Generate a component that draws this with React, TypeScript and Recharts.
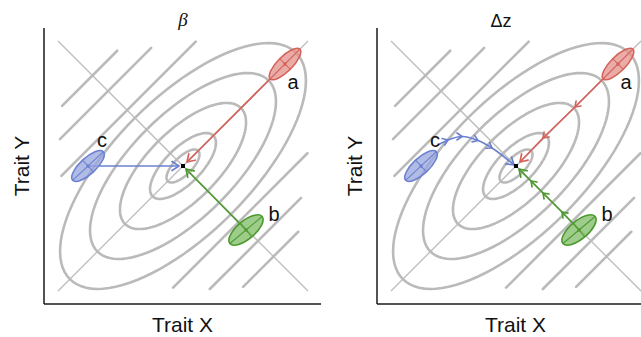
import React from 'react';
import { ComposedChart, Line, Scatter, XAxis, YAxis } from 'recharts';

// all positions in px relative to the optimum, y pointing up

// closed fitness contours (semi-axes along / across the main diagonal)
const contourMajor = [21.5, 43, 82, 121, 160];
const contourMinor = [9, 18, 35, 51.5, 68];
// outer contours: straight ridges parallel to the main diagonal, in both corners
const ridgeOffset = [79, 106, 128];
const ridgeFrom = [-93, -68, -43];
const ridgeTo = [97, 61, 35];

const popNames = ['a', 'b', 'c'];
const popX = [102, 63, -95];
const popY = [102, -64, 0];
const labelX = [110, 91, -81];
const labelY = [84, -48, 26];

// beta panel: straight gradient arrows
const betaRedX = [87, 4];
const betaRedY = [87, 4];
const betaGreenX = [63, 3];
const betaGreenY = [-64, -3];
const betaBlueX = [-95, -4];
const betaBlueY = [0, 0];

// delta z panel: response paths
const dzRedX = [87, 59, 27, 4];
const dzRedY = [87, 59, 28, 4];
const dzGreenX = [62, 46, 27, 15, 3];
const dzGreenY = [-63, -46, -27, -15, -3];
const dzBlueX = [-78, -68, -54, -38, -24, -2];
const dzBlueY = [21, 26, 29.5, 25.5, 18, 1];

const font = '"Liberation Sans", Arial, sans-serif';
const RED = '#d5625a';
const GREEN = '#4c9a2d';
const BLUE = '#6b80d0';

const popStyle: Record<string, any> = {
  a: { stroke: RED, fill: '#e49089', rx: 21, ry: 7.5, angle: 45 },
  b: { stroke: GREEN, fill: '#7dbb64', rx: 21, ry: 9, angle: 40 },
  c: { stroke: BLUE, fill: '#95a4de', rx: 21, ry: 8, angle: 43 },
};

const S = Math.SQRT1_2;
const rot = (u: number, v: number) => ({ x: (u - v) * S, y: (u + v) * S });

function closedContour(a: number, b: number) {
  const pts = [];
  for (let i = 0; i <= 96; i++) {
    const t = (i / 96) * Math.PI * 2;
    pts.push(rot(a * Math.cos(t), b * Math.sin(t)));
  }
  return pts;
}

const zip = (xs: number[], ys: number[]) => xs.map((x, i) => ({ x, y: ys[i] }));

const contours = [
  ...contourMajor.map((a, i) => closedContour(a, contourMinor[i])),
  ...ridgeOffset.flatMap((v, i) => [
    [rot(ridgeFrom[i], v), rot(ridgeTo[i], v)],
    [rot(ridgeFrom[i], -v), rot(ridgeTo[i], -v)],
  ]),
];

const diagonals = [
  [{ x: -125, y: -125 }, { x: 125, y: 125 }],
  [{ x: -125, y: 125 }, { x: 125, y: -125 }],
];

const pops = popNames.map((name, i) => ({ name, x: popX[i], y: popY[i] }));
const labels = popNames.map((name, i) => ({ name, x: labelX[i], y: labelY[i] }));

const betaArrows = [
  { id: 'red', color: RED, pts: zip(betaRedX, betaRedY) },
  { id: 'green', color: GREEN, pts: zip(betaGreenX, betaGreenY) },
  { id: 'blue', color: BLUE, pts: zip(betaBlueX, betaBlueY) },
];
const dzArrows = [
  { id: 'red', color: RED, pts: zip(dzRedX, dzRedY) },
  { id: 'green', color: GREEN, pts: zip(dzGreenX, dzGreenY) },
  { id: 'blue', color: BLUE, pts: zip(dzBlueX, dzBlueY), curved: true },
];

const renderPop = (props: any) => {
  const { cx, cy, payload } = props;
  const s = popStyle[payload.name];
  return (
    <g transform={`translate(${cx},${cy}) rotate(${-s.angle})`}>
      <ellipse rx={s.rx} ry={s.ry} fill={s.fill} fillOpacity={0.75} stroke={s.stroke} strokeWidth={1.6} />
      <line x1={-s.rx} x2={s.rx} y1={0} y2={0} stroke={s.stroke} strokeWidth={1} />
      <line x1={0} x2={0} y1={-s.ry} y2={s.ry} stroke={s.stroke} strokeWidth={1} />
      <circle r={1.6} fill={s.stroke} />
    </g>
  );
};

const renderLabel = (props: any) => (
  <text x={props.cx} y={props.cy} textAnchor="middle" dominantBaseline="central" fontSize={20} fontFamily={font} fill="#111">
    {props.payload.name}
  </text>
);

const renderOptimum = (props: any) => <rect x={props.cx - 2} y={props.cy - 2} width={4} height={4} fill="#000" />;

function Panel({ arrows, chevrons }: { arrows: any[]; chevrons: boolean }) {
  return (
    <ComposedChart width={321} height={337} margin={{ top: 28, right: 0, bottom: 0, left: 0 }}>
      <XAxis
        type="number"
        dataKey="x"
        domain={[-139, 138]}
        allowDataOverflow
        tick={false}
        tickLine={false}
        axisLine={{ stroke: '#1a1a1a', strokeWidth: 1.5 }}
        height={33}
        label={{ value: 'Trait X', position: 'insideBottom', offset: 5, fill: '#111', fontSize: 21, fontFamily: font }}
      />
      <YAxis
        type="number"
        dataKey="y"
        domain={[-138, 138]}
        allowDataOverflow
        tick={false}
        tickLine={false}
        axisLine={{ stroke: '#1a1a1a', strokeWidth: 1.5 }}
        width={44}
        label={{ value: 'Trait Y', angle: -90, position: 'center', fill: '#111', fontSize: 21, fontFamily: font }}
      />
      {diagonals.map((d, i) => (
        <Line key={`d${i}`} data={d} dataKey="y" stroke="#bcbcbc" strokeWidth={1.3} dot={false} activeDot={false} isAnimationActive={false} />
      ))}
      {contours.map((c, i) => (
        <Line key={`c${i}`} data={c} dataKey="y" stroke="#bababa" strokeWidth={2.6} strokeLinecap="round" dot={false} activeDot={false} isAnimationActive={false} />
      ))}
      {arrows.map((a) => (
        <Line
          key={a.id}
          data={a.pts}
          dataKey="y"
          type={a.curved ? 'monotone' : 'linear'}
          stroke={a.color}
          strokeWidth={1.7}
          dot={false}
          activeDot={false}
          isAnimationActive={false}
          markerEnd={`url(#head-${a.id})`}
          markerMid={chevrons ? `url(#chev-${a.id})` : undefined}
        />
      ))}
      <Scatter data={[{ x: 0, y: 0 }]} shape={renderOptimum} isAnimationActive={false} />
      <Scatter data={pops} shape={renderPop} isAnimationActive={false} />
      <Scatter data={labels} shape={renderLabel} isAnimationActive={false} />
    </ComposedChart>
  );
}

function Markers() {
  const cols: [string, string][] = [['red', RED], ['green', GREEN], ['blue', BLUE]];
  return (
    <svg width={0} height={0} style={{ position: 'absolute' }}>
      <defs>
        {cols.map(([id, c]) => (
          <React.Fragment key={id}>
            <marker id={`head-${id}`} viewBox="-10 -6 12 12" refX={0} refY={0} markerWidth={12} markerHeight={12} markerUnits="userSpaceOnUse" orient="auto" overflow="visible">
              <path d="M-7,-4.5 L0,0 L-7,4.5" fill="none" stroke={c} strokeWidth={1.7} strokeLinejoin="round" strokeLinecap="round" />
            </marker>
            <marker id={`chev-${id}`} viewBox="-10 -6 12 12" refX={0} refY={0} markerWidth={12} markerHeight={12} markerUnits="userSpaceOnUse" orient="auto" overflow="visible">
              <path d="M-5,-3.5 L0,0 L-5,3.5" fill="none" stroke={c} strokeWidth={1.6} strokeLinejoin="round" strokeLinecap="round" />
            </marker>
          </React.Fragment>
        ))}
      </defs>
    </svg>
  );
}

export default function App() {
  return (
    <div style={{ position: 'fixed', left: 0, top: 0, width: 641, height: 337, overflow: 'hidden', background: '#fff' }}>
      <Markers />
      <div style={{ position: 'absolute', left: 0, top: 0 }}>
        <Panel arrows={betaArrows} chevrons={false} />
      </div>
      <div style={{ position: 'absolute', left: 333, top: 0 }}>
        <Panel arrows={dzArrows} chevrons={true} />
      </div>
      <svg width={641} height={337} style={{ position: 'absolute', left: 0, top: 0, pointerEvents: 'none' }}>
        <text x={183} y={26} textAnchor="middle" fontSize={19} fontStyle="italic" fontFamily='"Liberation Serif", "Times New Roman", serif' fill="#111">
          β
        </text>
        <text x={501} y={27} textAnchor="middle" fontSize={18} fontFamily={font} fill="#111">
          Δz
        </text>
      </svg>
    </div>
  );
}
